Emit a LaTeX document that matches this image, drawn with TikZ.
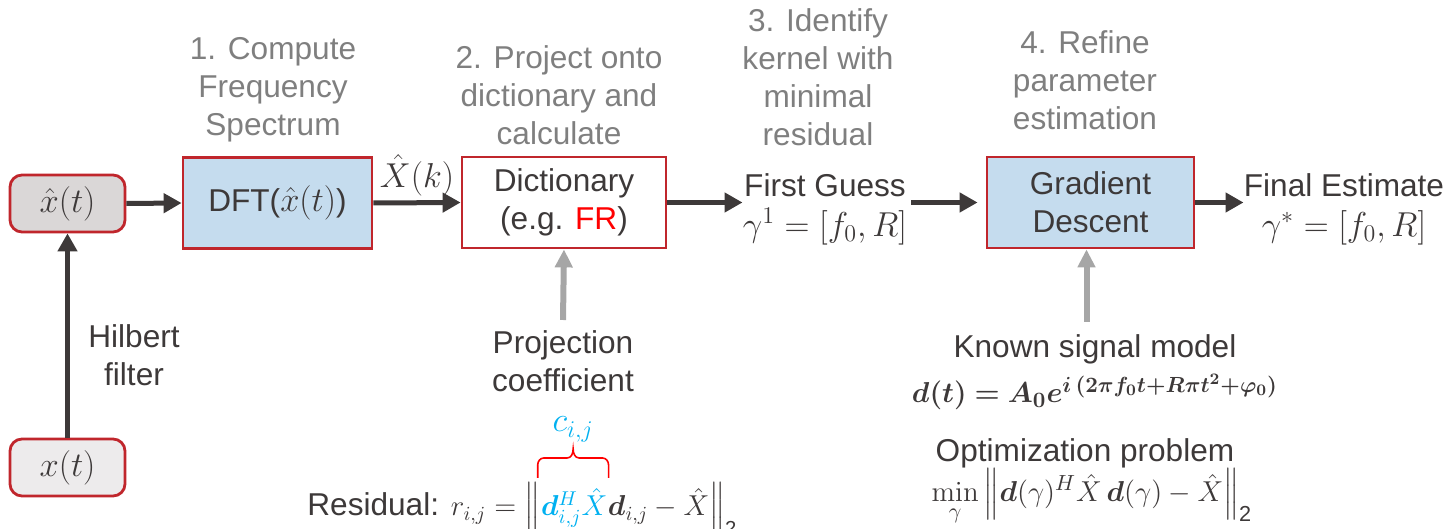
\documentclass[tikz,border=0pt]{standalone}
\usepackage{amsmath}
\usepackage{bm}
\usepackage[no-math]{fontspec}
\setmainfont{Liberation Sans}
\usetikzlibrary{arrows.meta,calc}
\definecolor{txt}{HTML}{3D3939}
\definecolor{lbl}{HTML}{7F7F7F}
\definecolor{bord}{HTML}{C0262C}
\definecolor{bluefill}{HTML}{C5DCEE}
\definecolor{hatfill}{HTML}{DAD7D7}
\definecolor{xfill}{HTML}{EDEBEC}
\definecolor{garrow}{HTML}{A6A6A6}
\definecolor{cyanc}{HTML}{00B0F0}
\definecolor{frred}{HTML}{FF0000}
\newcommand{\mth}[1]{{\fontsize{17.5}{20}\selectfont$#1$}}
\begin{document}
\begin{tikzpicture}[x=0.5pt,y=0.5pt,
  every node/.style={text=txt,font=\fontsize{15.8}{19}\selectfont},
  box/.style={draw=bord,line width=1.4pt,align=center,inner sep=0pt},
  sigbox/.style={box,rounded corners=6pt,minimum width=57.5pt,minimum height=28.5pt},
  procbox/.style={box,minimum height=45.5pt},
  steplabel/.style={text=lbl,align=center},
  darrow/.style={draw=txt,line width=2.5pt,-{Triangle[length=9pt,width=9.5pt]}},
  garrowst/.style={draw=garrow,line width=3pt,-{Triangle[length=9pt,width=8.5pt]}},
  plain/.style={align=center,inner sep=0pt},
  resmath/.style={anchor=base west,inner sep=0pt,font=\fontsize{14.5}{19}\selectfont}
]
\useasboundingbox (0,0) rectangle (1448,-529);

% signal boxes
\node[sigbox,fill=hatfill] (xh) at (67.5,-203.5) {\mth{\hat{x}(t)}};
\node[sigbox,fill=xfill] (x) at (67.5,-467.5) {\mth{x(t)}};
\node[plain] (hf) at (134,-355) {Hilbert\\filter};

% processing boxes
\node[procbox,fill=bluefill,minimum width=94.5pt] (dft) at (277.5,-203) {DFT(\mth{\hat{x}(t)})};
\node[procbox,fill=white,minimum width=102pt] (dict) at (564,-202.5) {Dictionary\\(e.g. \textcolor{frred}{FR})};
\node[procbox,fill=bluefill,minimum width=103.5pt] (gd) at (1090.5,-202.5) {Gradient\\Descent};

% results
\node[plain] (fg) at (825,-209) {First Guess\\[1pt]\mth{\gamma^1=[f_0,R]}};
\node[plain] (fe) at (1344,-209) {Final Estimate\\[1pt]\mth{\gamma^{*}=[f_0,R]}};

% step labels
\node[steplabel] (s1) at (273,-90) {1. Compute\\Frequency\\Spectrum};
\node[steplabel] (s2) at (559,-95) {2. Project onto\\dictionary and\\calculate};
\node[steplabel] (s3) at (818,-77) {3. Identify\\kernel with\\minimal\\residual};
\node[steplabel] (s4) at (1085,-80) {4. Refine\\parameter\\estimation};

% main arrows
\draw[darrow] (x.north) -- (xh.south);
\draw[darrow] (xh.east) -- (dft.west);
\draw[darrow] (dft.east) -- node[above=1pt,inner sep=1pt] (xk) {\mth{\hat{X}(k)}} (dict.west);
\draw[darrow] (dict.east) -- (dict.east -| fg.west);
\draw[darrow] (gd.west -| fg.east) ++(4,0) -- ($(gd.west)+(-8,0)$);
\draw[darrow] (gd.east) -- (gd.east -| fe.west);

% projection coefficient
\node[plain] (pc) at (563,-361) {Projection\\coefficient};
\draw[garrowst] ($(pc.north)+(0,10)$) -- (dict.south);

% known model
\node[plain] (ksm) at (1095,-349) {Known signal model};
\node[plain,font=\fontsize{15.7}{19}\selectfont] (ksmf) at (1095,-392) {$\bm{d(t)=A_0e^{i\,(2\pi f_0t+R\pi t^2+\varphi_0)}}$};
\node[plain] (opt) at (1085,-453) {Optimization problem};
\node[plain,font=\fontsize{15.5}{19}\selectfont] (optf) at (1092,-497) {$\min\limits_{\gamma}\Big\|\bm{d}(\gamma)^H\hat{X}\,\bm{d}(\gamma)-\hat{X}\Big\|_{\text{2}}$};
\draw[garrowst] ($(ksm.north -| gd.south)+(-4,12)$) -- ($(gd.south)+(-4,0)$);

% residual
\node[anchor=base west,inner sep=0pt] (res1) at (307,-516) {Residual: {\fontsize{14.5}{19}\selectfont$r_{i,j}=\Big\|$}};
\node[resmath] (cy) at (res1.base east) {$\textcolor{cyanc}{\bm{d}^H_{i,j}\hat{X}}$};
\node[resmath] (res2) at (cy.base east) {$\bm{d}_{i,j}-\hat{X}\Big\|_{\text{2}}$};
\coordinate (ylow) at (0,-478);
\coordinate (yhigh) at (0,-458);
\coordinate (ytop) at (0,-449);
\coordinate (bL) at ($(res1.east)+(-3,0)$);
\coordinate (bR) at ($(cy.east)+(1,0)$);
\coordinate (bM) at ($(bL)!0.5!(bR)$);
\node[plain,anchor=base,text=cyanc,font=\fontsize{17}{19}\selectfont] (cij) at ($(bM |- ytop)+(0,17)$) {$c_{i,j}$};
\draw[frred,line width=0.8pt] (bL |- ylow) -- ($(bL |- yhigh)+(0,-7)$) to[out=90,in=180] ($(bL |- yhigh)+(6,0)$)
  -- ($(bM |- yhigh)+(-6,0)$) to[out=0,in=-90] (bM |- ytop) to[out=-90,in=180] ($(bM |- yhigh)+(6,0)$)
  -- ($(bR |- yhigh)+(-6,0)$) to[out=0,in=90] ($(bR |- yhigh)+(0,-7)$) -- (bR |- ylow);
\end{tikzpicture}
\end{document}
